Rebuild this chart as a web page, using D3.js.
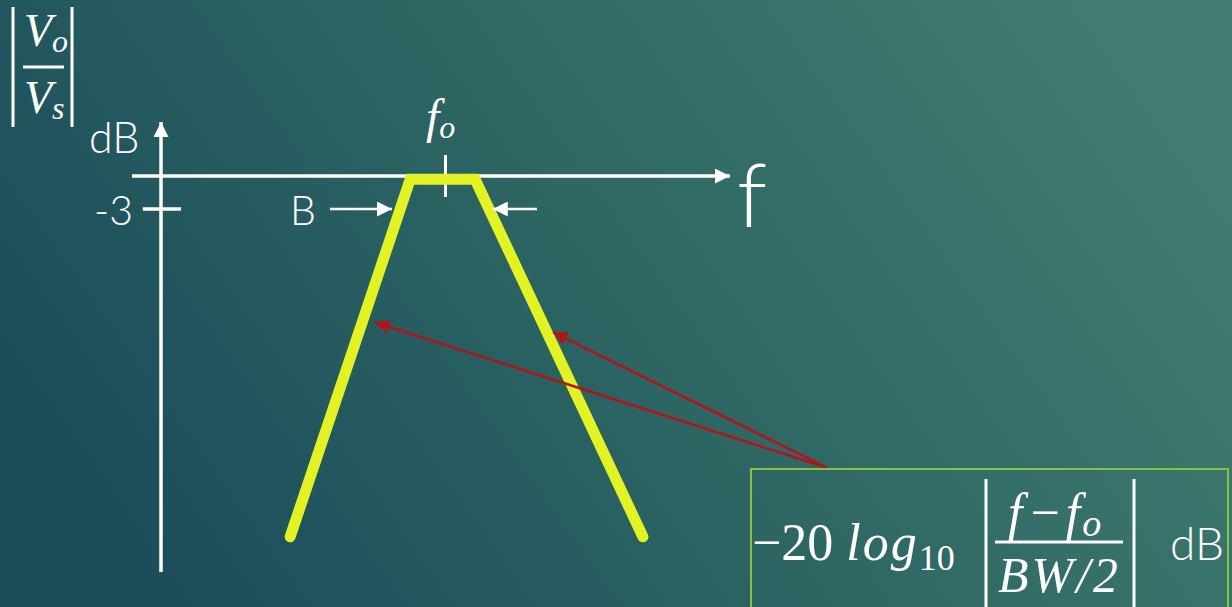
<!DOCTYPE html>
<meta charset="utf-8">
<script src="https://d3js.org/d3.v7.min.js"></script>
<style>
  body { margin: 0; overflow: hidden; }
  .sans { font-family: Lato, "Open Sans", sans-serif; font-weight: 300; fill: #fff; }
  .math { font-family: "Liberation Serif", "DejaVu Serif", serif; fill: #fff; }
</style>
<div id="my_dataviz"></div>
<script>
// band-pass response, straight-line approximation (f in arbitrary units, dB)
var respF  = [22.7, 43.8, 55.2, 84.7];
var respDb = [-32.8, -0.3, -0.3, -32.8];

var f0 = 50;
var cutoffDb = -3;
var cutLeftF = 40.6, cutRightF = 58.3;   // arrow tips at the -3 dB points

// annotation arrows: from the formula box to the two skirts
var noteFrom = [117, -26.5];
var noteTo   = [[37.6, -13.3], [68.9, -14.2]];

var W = 1232, H = 607;

var x = d3.scaleLinear().domain([0, 100]).range([161, 730]);
var y = d3.scaleLinear().domain([0, -36]).range([176, 572]);

var svg = d3.select("#my_dataviz").append("svg")
  .attr("width", W).attr("height", H);

var defs = svg.append("defs");
var grad = defs.append("linearGradient").attr("id", "bg")
  .attr("x1", 0).attr("y1", 0.65).attr("x2", 1).attr("y2", 0.3);
grad.append("stop").attr("offset", 0).attr("stop-color", "#1b4c5a");
grad.append("stop").attr("offset", 0.5).attr("stop-color", "#2d6663");
grad.append("stop").attr("offset", 1).attr("stop-color", "#417d71");

function marker(id, color, w, h) {
  defs.append("marker").attr("id", id)
    .attr("viewBox", "0 0 10 10").attr("refX", 10).attr("refY", 5)
    .attr("markerUnits", "userSpaceOnUse")
    .attr("markerWidth", w).attr("markerHeight", h)
    .attr("orient", "auto")
    .append("path").attr("d", "M0,0L10,5L0,10z").attr("fill", color);
}
marker("wh", "#fff", 16, 15);
marker("red", "#b3141a", 18, 14);

svg.append("rect").attr("width", W).attr("height", H).attr("fill", "url(#bg)");

// axes
svg.append("line")
  .attr("x1", x(0)).attr("y1", y(-36)).attr("x2", x(0)).attr("y2", 122)
  .attr("stroke", "#fff").attr("stroke-width", 3.5).attr("marker-end", "url(#wh)");
svg.append("line")
  .attr("x1", x(-5.1)).attr("y1", y(0)).attr("x2", x(100)).attr("y2", y(0))
  .attr("stroke", "#fff").attr("stroke-width", 3.5).attr("marker-end", "url(#wh)");

// -3 dB tick and f0 tick
svg.append("line")
  .attr("x1", x(-3.2)).attr("x2", x(3.5)).attr("y1", y(cutoffDb)).attr("y2", y(cutoffDb))
  .attr("stroke", "#fff").attr("stroke-width", 3.5);
svg.append("line")
  .attr("x1", x(f0)).attr("x2", x(f0)).attr("y1", 155).attr("y2", 197)
  .attr("stroke", "#fff").attr("stroke-width", 3);

// response curve
svg.append("path")
  .datum(d3.zip(respF, respDb))
  .attr("fill", "none").attr("stroke", "#e3f224").attr("stroke-width", 11)
  .attr("stroke-linecap", "round").attr("stroke-linejoin", "miter")
  .attr("d", d3.line().x(function(d) { return x(d[0]); }).y(function(d) { return y(d[1]); }));

// bandwidth arrows
svg.append("line")
  .attr("x1", 330).attr("x2", x(cutLeftF)).attr("y1", y(cutoffDb)).attr("y2", y(cutoffDb))
  .attr("stroke", "#fff").attr("stroke-width", 2.5).attr("marker-end", "url(#wh)");
svg.append("line")
  .attr("x1", 537).attr("x2", x(cutRightF)).attr("y1", y(cutoffDb)).attr("y2", y(cutoffDb))
  .attr("stroke", "#fff").attr("stroke-width", 2.5).attr("marker-end", "url(#wh)");

// red annotation arrows
noteTo.forEach(function(t) {
  svg.append("line")
    .attr("x1", x(noteFrom[0])).attr("y1", y(noteFrom[1]))
    .attr("x2", x(t[0])).attr("y2", y(t[1]))
    .attr("stroke", "#b3141a").attr("stroke-width", 2.5).attr("marker-end", "url(#red)");
});

// formula box
svg.append("rect").attr("x", 751).attr("y", 469).attr("width", 477).attr("height", 140)
  .attr("fill", "none").attr("stroke", "#86c440").attr("stroke-width", 2);

// labels
svg.append("text").attr("class", "sans").attr("x", 89).attr("y", 153)
  .style("font-size", "43px").text("dB");
svg.append("text").attr("class", "sans").attr("x", 94).attr("y", 225)
  .style("font-size", "41px").text("-3");
svg.append("text").attr("class", "sans").attr("x", 290).attr("y", 225)
  .style("font-size", "41px").text("B");
svg.append("text").attr("class", "sans").attr("x", 737).attr("y", 227)
  .style("font-size", "88px").text("f");

var fo = svg.append("text").attr("class", "math").attr("x", 426).attr("y", 133)
  .style("font-size", "48px").style("font-style", "italic");
fo.append("tspan").text("f");
fo.append("tspan").attr("dy", 5).style("font-size", "32px").text("o");

// |Vo/Vs|
function bar(xp, y1, y2) {
  svg.append("line").attr("x1", xp).attr("x2", xp).attr("y1", y1).attr("y2", y2)
    .attr("stroke", "#fff").attr("stroke-width", 3);
}
bar(13, 7, 127);
bar(72, 7, 127);
svg.append("line").attr("x1", 23).attr("x2", 64).attr("y1", 67).attr("y2", 67)
  .attr("stroke", "#fff").attr("stroke-width", 3);
var vo = svg.append("text").attr("class", "math").attr("x", 24).attr("y", 46)
  .style("font-size", "46px").style("font-style", "italic");
vo.append("tspan").text("V");
vo.append("tspan").attr("dy", 6).style("font-size", "32px").text("o");
var vs = svg.append("text").attr("class", "math").attr("x", 24).attr("y", 113)
  .style("font-size", "46px").style("font-style", "italic");
vs.append("tspan").text("V");
vs.append("tspan").attr("dy", 6).style("font-size", "32px").text("s");

// formula
var fm = svg.append("text").attr("class", "math").attr("x", 752).attr("y", 560)
  .style("font-size", "52px");
fm.append("tspan").text("\u221220 ");
fm.append("tspan").style("font-style", "italic").style("letter-spacing", "2px").text("log");
fm.append("tspan").attr("dy", 10).style("font-size", "36px").text("10");
bar(986, 479, 607);
bar(1134, 479, 607);
svg.append("line").attr("x1", 995).attr("x2", 1123).attr("y1", 542).attr("y2", 542)
  .attr("stroke", "#fff").attr("stroke-width", 3);
var num = svg.append("text").attr("class", "math").attr("x", 1008).attr("y", 530)
  .style("font-size", "52px").style("font-style", "italic");
num.append("tspan").text("f");
num.append("tspan").attr("dx", 8).style("font-style", "normal").text("\u2212");
num.append("tspan").attr("dx", 6).text("f");
num.append("tspan").attr("dy", 6).attr("dx", 2).style("font-size", "38px").text("o");
svg.append("text").attr("class", "math").attr("x", 998).attr("y", 592)
  .style("font-size", "50px").style("font-style", "italic").style("letter-spacing", "3px")
  .text("BW/2");
svg.append("text").attr("class", "sans").attr("x", 1170).attr("y", 560)
  .style("font-size", "46px").text("dB");
</script>
